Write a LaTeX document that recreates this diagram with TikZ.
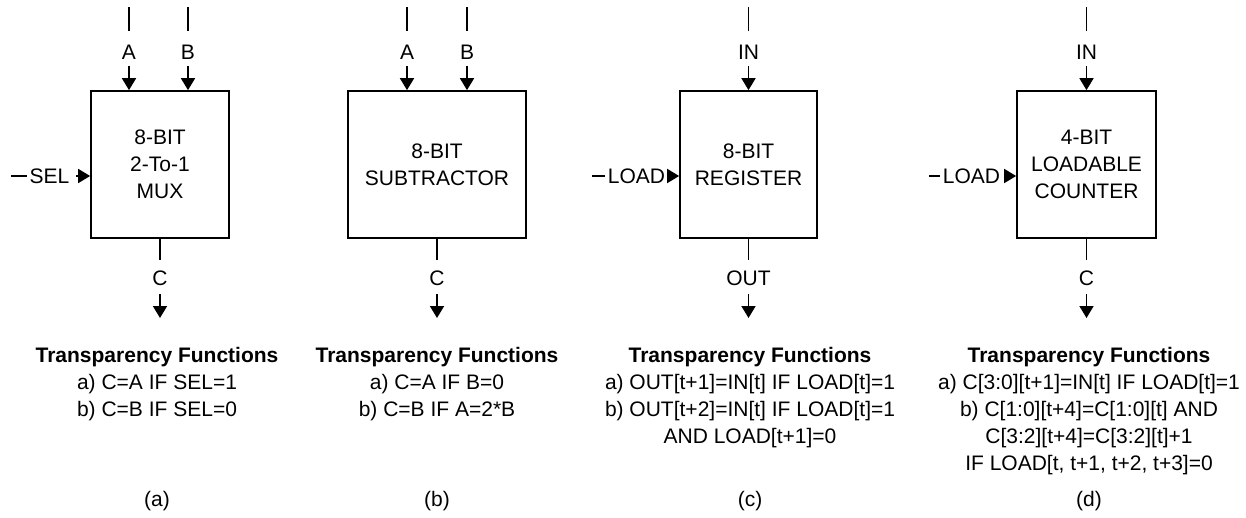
\documentclass[tikz,border=0pt]{standalone}
\usepackage{fontspec}
\setmainfont{Liberation Sans}
\usetikzlibrary{arrows.meta}
\usetikzlibrary{positioning}

\begin{document}
\begin{tikzpicture}[x=1pt, y=-1pt, line width=1.7pt,
  font=\fontsize{21}{27}\selectfont,
  block/.style={draw, align=center, inner sep=0pt, minimum height=147pt},
  pin/.style={inner sep=0pt, text height=15pt, text depth=0pt},
  sig/.style={-{Triangle[length=12pt, width=14pt]}},
  funcs/.style={align=center, inner sep=0pt, anchor=north}]
  \useasboundingbox (0,0) rectangle (1246,517);

  % the four blocks
  \node [block, minimum width=138pt] at (160,164.5) (boxa) {8-BIT\\2-To-1\\MUX};
  \node [block, minimum width=178pt] at (437,164.5) (boxb) {8-BIT\\SUBTRACTOR};
  \node [block, minimum width=137pt] at (748.5,164.5) (boxc) {8-BIT\\REGISTER};
  \node [block, minimum width=139pt] at (1086.5,164.5) (boxd) {4-BIT\\LOADABLE\\COUNTER};

  % inputs from the top
  \foreach \n/\x/\t/\b in {aA/129/A/a, aB/188/B/a, bA/407/A/b, bB/467/B/b, cI/748.5/IN/c, dI/1086.5/IN/d} {
    \coordinate (\n0) at (\x,7);
    \node [pin] at (\x,52) (\n) {\t};
    \draw [shorten >=12.5pt] (\n0) -- (\n);
    \draw [sig, shorten <=5.5pt] (\n) -- (\n |- box\b.north);
  }

  % outputs at the bottom
  \foreach \n/\x/\t/\b in {aC/160/C/a, bC/437/C/b, cO/748.5/OUT/c, dC/1086.5/C/d} {
    \node [pin] at (\x,277.5) (\n) {\t};
    \coordinate (\n1) at (\x,318);
    \draw [shorten >=9.5pt] (\n |- box\b.south) -- (\n);
    \draw [sig, shorten <=8.5pt] (\n) -- (\n1);
  }

  % control inputs from the left
  \foreach \n/\x/\s/\t/\b/\g in {sel/49.5/11/SEL/a/6, ldc/636.5/592/LOAD/c/3, ldd/971.5/929/LOAD/d/5} {
    \coordinate (\n0) at (\s,176);
    \node [pin] at (\x,176) (\n) {\t};
    \draw [shorten >=2pt] (\n0) -- (\n);
    \draw [sig, shorten <=\g pt] (\n) -- (\n -| box\b.west);
  }

  % transparency functions
  \node [funcs] at (157,346.5) (fna) {\textbf{Transparency Functions}\\a) C=A IF SEL=1\\b) C=B IF SEL=0};
  \node [funcs] at (437,346.5) (fnb) {\textbf{Transparency Functions}\\a) C=A IF B=0\\b) C=B IF A=2*B};
  \node [funcs] at (750,346.5) (fnc) {\textbf{Transparency Functions}\\a) OUT[t+1]=IN[t] IF LOAD[t]=1\\b) OUT[t+2]=IN[t] IF LOAD[t]=1\\AND LOAD[t+1]=0};
  \node [funcs] at (1089,346.5) (fnd) {\textbf{Transparency Functions}\\a) C[3:0][t+1]=IN[t] IF LOAD[t]=1\\b) C[1:0][t+4]=C[1:0][t] AND\\C[3:2][t+4]=C[3:2][t]+1\\IF LOAD[t, t+1, t+2, t+3]=0};

  \foreach \x/\c in {157/a, 437/b, 750/c, 1089/d}
    \node [anchor=base, inner sep=0pt] at (\x,506) (cap\c) {(\c)};
\end{tikzpicture}
\end{document}
